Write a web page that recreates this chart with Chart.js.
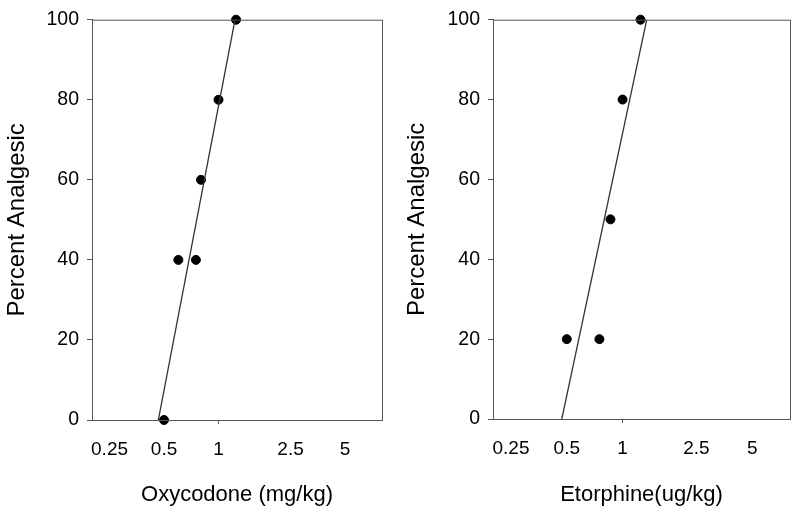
<!DOCTYPE html>
<html>
<head>
<meta charset="utf-8">
<script src="https://cdn.jsdelivr.net/npm/chart.js@4"></script>
<style>
  body { margin: 0; background: #fff; }
  #wrap { position: relative; width: 800px; height: 512px; }
  canvas { position: absolute; top: 0; }
</style>
</head>
<body>
<div id="wrap">
  <canvas id="oxyChart" width="400" height="512" style="left:0"></canvas>
  <canvas id="etoChart" width="400" height="512" style="left:400px"></canvas>
</div>
<script>
// dosis (skala log) dan persen analgesik
const doseTicks = [0.25, 0.5, 1, 2.5, 5];
const pctTicks = [0, 20, 40, 60, 80, 100];

const oxyDose = [0.5, 0.6, 0.75, 0.8, 1.0, 1.25];
const oxyPct = [0, 40, 40, 60, 80, 100];
const oxyFitDose = [0.465, 1.234];
const oxyFitPct = [0, 100];

const etoDose = [0.5, 0.75, 0.86, 1.0, 1.25];
const etoPct = [20, 20, 50, 80, 100];
const etoFitDose = [0.47, 1.35];
const etoFitPct = [0, 100];

const FONT = "'Liberation Sans', Arial, sans-serif";
const AXIS_COLOR = '#555';

// gambar kotak di sekeliling area grafik
const boxPlugin = {
  id: 'box',
  afterDraw(chart) {
    const a = chart.chartArea;
    const ctx = chart.ctx;
    ctx.save();
    ctx.strokeStyle = AXIS_COLOR;
    ctx.lineWidth = 1;
    ctx.strokeRect(a.left + 0.5, a.top + 0.5, a.right - a.left, a.bottom - a.top);
    ctx.restore();
  }
};

function toPoints(xs, ys) {
  return xs.map((x, i) => ({ x: x, y: ys[i] }));
}

function makeChart(id, cfg) {
  const ctx = document.getElementById(id).getContext('2d');
  return new Chart(ctx, {
    type: 'scatter',
    data: {
      datasets: [{
        type: 'line',
        data: toPoints(cfg.fitDose, cfg.fitPct),
        borderColor: '#333',
        borderWidth: 1.3,
        pointRadius: 0,
        fill: false
      }, {
        data: toPoints(cfg.dose, cfg.pct),
        backgroundColor: '#000',
        borderColor: '#000',
        pointRadius: 4.5,
        clip: false
      }]
    },
    options: {
      responsive: false,
      animation: false,
      layout: { padding: cfg.padding },
      plugins: { legend: { display: false }, tooltip: { enabled: false } },
      scales: {
        x: {
          type: 'logarithmic',
          min: 0.2,
          max: 8,
          afterBuildTicks: s => { s.ticks = doseTicks.map(v => ({ value: v })); },
          afterFit: s => { s.height = cfg.xHeight; },
          ticks: {
            autoSkip: false,
            maxRotation: 0,
            color: '#000',
            font: { family: FONT, size: 19 },
            padding: 14,
            callback: v => String(v)
          },
          grid: {
            drawOnChartArea: false,
            tickLength: 4,
            color: c => (c.tick && c.tick.value === 1) ? AXIS_COLOR : 'rgba(0,0,0,0)'
          },
          border: { display: true, color: AXIS_COLOR },
          title: {
            display: true,
            text: cfg.xTitle,
            color: '#000',
            font: { family: FONT, size: 22 },
            padding: { top: 0, bottom: 4 }
          }
        },
        y: {
          min: 0,
          max: 100,
          afterBuildTicks: s => { s.ticks = pctTicks.map(v => ({ value: v })); },
          afterFit: s => { s.width = cfg.yWidth; },
          ticks: {
            color: '#000',
            font: { family: FONT, size: 19.5 },
            padding: 8
          },
          grid: { drawOnChartArea: false, tickLength: 5, color: AXIS_COLOR },
          border: { display: true, color: AXIS_COLOR },
          title: {
            display: true,
            text: 'Percent Analgesic',
            color: '#000',
            font: { family: FONT, size: 24 },
            padding: { top: 3, bottom: 0 }
          }
        }
      }
    },
    plugins: [boxPlugin]
  });
}

makeChart('oxyChart', {
  dose: oxyDose, pct: oxyPct, fitDose: oxyFitDose, fitPct: oxyFitPct,
  xTitle: 'Oxycodone (mg/kg)',
  padding: { left: 0, right: 18, top: 19, bottom: 0 },
  yWidth: 92, xHeight: 92
});

makeChart('etoChart', {
  dose: etoDose, pct: etoPct, fitDose: etoFitDose, fitPct: etoFitPct,
  xTitle: 'Etorphine(ug/kg)',
  padding: { left: 0, right: 10, top: 18, bottom: 0 },
  yWidth: 93, xHeight: 93
});
</script>
</body>
</html>
